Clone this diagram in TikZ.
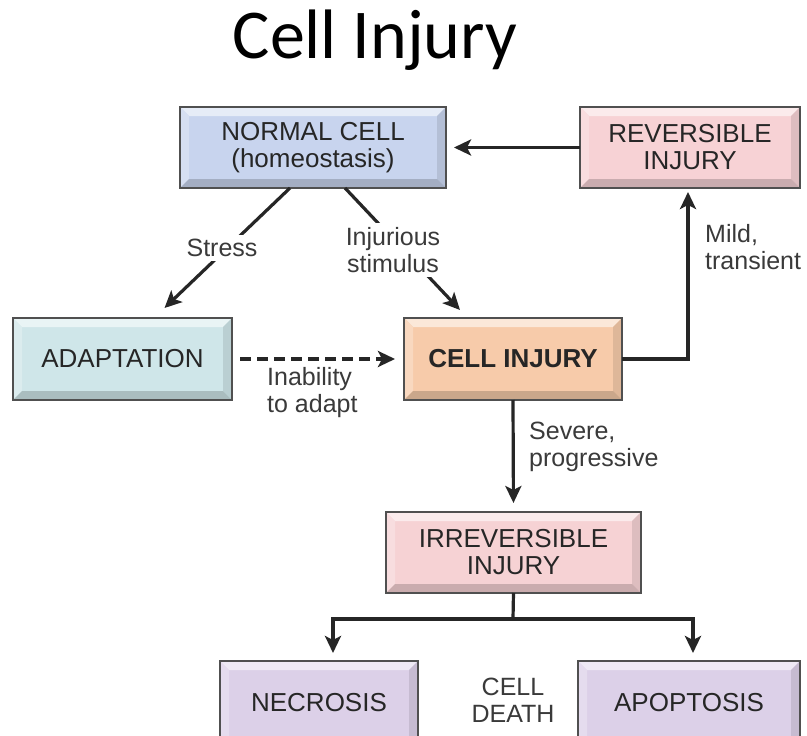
\documentclass[tikz,border=0pt]{standalone}
\usepackage{fontspec}
\setmainfont{Liberation Sans}
\newfontfamily\titlefont{Carlito}
\usetikzlibrary{arrows.meta}
\definecolor{cNormal}{HTML}{C8D4EE}
\definecolor{cRev}{HTML}{F7D2D5}
\definecolor{cAdapt}{HTML}{CFE6E9}
\definecolor{cInj}{HTML}{F7CBAA}
\definecolor{cIrr}{HTML}{F6D2D4}
\definecolor{cDeath}{HTML}{DCD0E8}
\definecolor{edgegray}{HTML}{505050}
\definecolor{txt}{HTML}{262626}
\definecolor{lbltxt}{HTML}{3A3A3A}
\tikzset{
  boxtext/.style={font=\fontsize{26}{27}\selectfont, align=center, text=txt, inner sep=0pt, outer sep=0pt, line width=1.6pt},
  lbl/.style={font=\fontsize{25}{27}\selectfont, text=lbltxt, inner sep=1pt},
  arr/.style={line width=3.2pt, draw=black!85, -{Stealth[length=17pt,width=16pt,inset=4pt]}},
  conn/.style={line width=3.2pt, draw=black!85}
}
\newcommand\bevbox[7]{%
 \fill[#6] (#2,#3) rectangle (#4,#5);
 \fill[#6!45!white] (#2,#3) -- (#4,#3) -- ({#4-9},{#3+9}) -- ({#2+9},{#3+9}) -- cycle;
 \fill[#6!75!white] (#2,#3) -- ({#2+9},{#3+9}) -- ({#2+9},{#5-9}) -- (#2,#5) -- cycle;
 \fill[#6!90!black] (#4,#3) -- ({#4-9},{#3+9}) -- ({#4-9},{#5-9}) -- (#4,#5) -- cycle;
 \fill[#6!82!black] (#2,#5) -- ({#2+9},{#5-9}) -- ({#4-9},{#5-9}) -- (#4,#5) -- cycle;
 \node[boxtext, minimum width={(#4-#2)*1pt}, minimum height={(#5-#3)*1pt}, draw=edgegray] (#1) at ({(#2+#4)/2},{(#3+#5)/2}) {#7};
}
\begin{document}
\begin{tikzpicture}[x=1pt,y=-1pt]
\clip (0,0) rectangle (807,736);
\fill[white] (0,0) rectangle (807,736);
\node[font=\titlefont\fontsize{70}{74}\selectfont] (title) at (375,40) {Cell Injury};
\bevbox{normal}{180}{107}{446}{188}{cNormal}{NORMAL CELL\\(homeostasis)}
\bevbox{rev}{580}{107}{800}{188}{cRev}{REVERSIBLE\\INJURY}
\bevbox{adapt}{13}{318}{232}{400}{cAdapt}{ADAPTATION}
\bevbox{inj}{404}{318}{622}{400}{cInj}{\textbf{CELL INJURY}}
\bevbox{irr}{386}{512}{641}{593}{cIrr}{IRREVERSIBLE\\INJURY}
\bevbox{necro}{220}{661}{418}{745}{cDeath}{NECROSIS}
\bevbox{apop}{578}{661}{800}{745}{cDeath}{APOPTOSIS}
% arrows
\draw[arr, shorten >=8pt] (rev) -- (normal);
\draw[arr] ([xshift=-23pt]normal.south) -- ([xshift=42pt,yshift=10pt]adapt.north);
\node[lbl, fill=white, inner sep=4pt] (stress) at (222,248) {Stress};
\draw[arr] ([xshift=32pt]normal.south) -- ([xshift=-53pt,yshift=8pt]inj.north);
\node[lbl, fill=white, align=center, inner sep=4pt] (injstim) at (393,250) {Injurious\\stimulus};
\draw[arr, dash pattern=on 11pt off 6pt, shorten <=8pt, shorten >=9pt] (adapt) -- (inj);
\node[lbl, align=left, anchor=west] (inab) at (266,393) {Inability\\to adapt};
\draw[arr] (inj.east) -| ([xshift=-2pt,yshift=-4pt]rev.south);
\node[lbl, align=left, anchor=west] (mild) at (704,247) {Mild,\\transient};
\draw[arr, shorten >=9pt] (inj.south) -- (irr.north);
\node[lbl, align=left, anchor=west] (severe) at (528,447) {Severe,\\progressive};
\coordinate (split) at (513,619);
\draw[conn] (irr.south) -- (split);
\draw[arr] (split) -| ([xshift=14pt,yshift=8pt]necro.north);
\draw[arr] (split) -| ([xshift=4pt,yshift=8pt]apop.north);
\node[lbl, align=center] (death) at (513,700) {CELL\\DEATH};
\end{tikzpicture}
\end{document}
